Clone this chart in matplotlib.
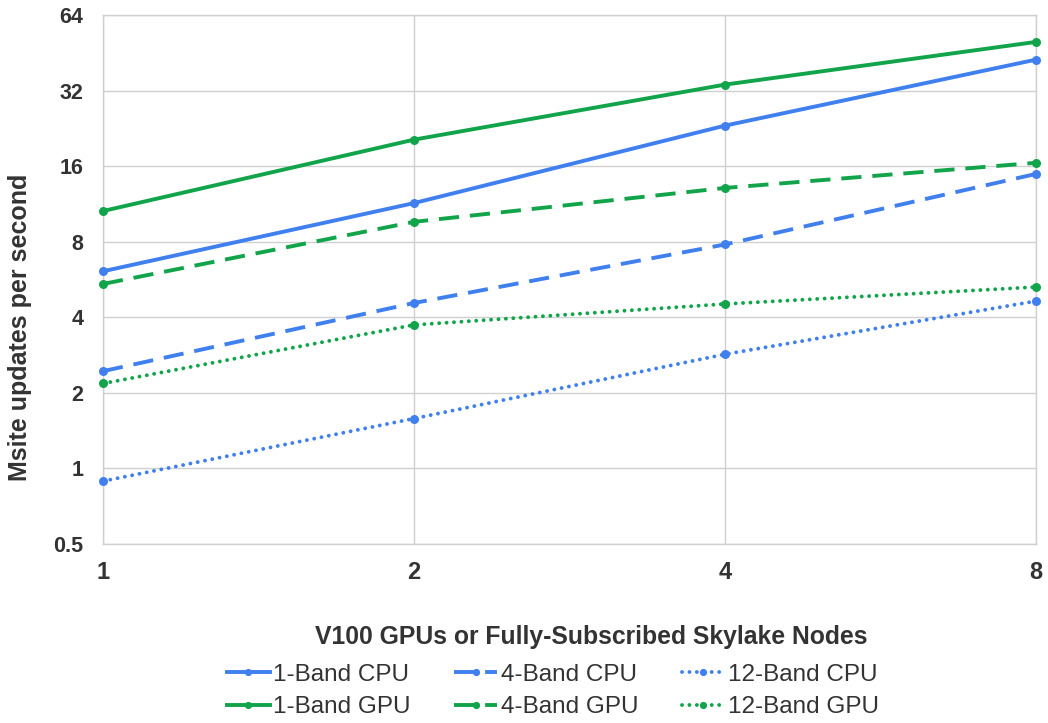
import matplotlib.pyplot as plt
from matplotlib.ticker import FixedLocator, FixedFormatter, NullLocator

nodes = [1, 2, 4, 8]
cpu_1band = [6.1, 11.4, 23.2, 42.5]
cpu_4band = [2.44, 4.56, 7.8, 14.9]
cpu_12band = [0.89, 1.58, 2.85, 4.64]
gpu_1band = [10.6, 20.4, 33.8, 50.0]
gpu_4band = [5.43, 9.6, 13.1, 16.5]
gpu_12band = [2.18, 3.73, 4.52, 5.28]

y_ticks = [0.5, 1, 2, 4, 8, 16, 32, 64]
y_tick_labels = ["0.5", "1", "2", "4", "8", "16", "32", "64"]
x_tick_labels = ["1", "2", "4", "8"]

BLUE = "#3F80EE"
GREEN = "#12A44A"
TEXT = "#333333"
GRID = "#D0D0D0"

plt.rcParams['font.family'] = ['Liberation Sans', 'DejaVu Sans']

W, H = 1048, 723
fig = plt.figure(figsize=(W / 100, H / 100), dpi=100)
ax = fig.add_axes([103 / W, 1 - 544 / H, (1036 - 103) / W, (544 - 15) / H])

SOLID = "-"
DASHED = (0, (5.2, 2.8))
DOTTED = (0, (0.01, 1.9))

series = [
    ("1-Band CPU", cpu_1band, BLUE, SOLID, 2.8),
    ("4-Band CPU", cpu_4band, BLUE, DASHED, 2.8),
    ("12-Band CPU", cpu_12band, BLUE, DOTTED, 2.8),
    ("1-Band GPU", gpu_1band, GREEN, SOLID, 2.8),
    ("4-Band GPU", gpu_4band, GREEN, DASHED, 2.8),
    ("12-Band GPU", gpu_12band, GREEN, DOTTED, 2.8),
]

for label, vals, color, ls, lw in series:
    ax.plot(nodes, vals, color=color, linestyle=ls, linewidth=lw,
            marker="o", markersize=6.5, markeredgewidth=0, label=label,
            dash_capstyle="round" if ls is DOTTED else "butt",
            clip_on=False, zorder=3)

ax.set_xscale("log", base=2)
ax.set_yscale("log", base=2)
ax.set_xlim(1, 8)
ax.set_ylim(0.5, 64)

ax.xaxis.set_major_locator(FixedLocator(nodes))
ax.xaxis.set_major_formatter(FixedFormatter(x_tick_labels))
ax.xaxis.set_minor_locator(NullLocator())
ax.yaxis.set_major_locator(FixedLocator(y_ticks))
ax.yaxis.set_major_formatter(FixedFormatter(y_tick_labels))
ax.yaxis.set_minor_locator(NullLocator())

ax.grid(True, which="major", color=GRID, linewidth=1.0)
ax.set_axisbelow(True)
for s in ax.spines.values():
    s.set_color(GRID)
    s.set_linewidth(1.0)

ax.tick_params(axis="both", length=0, labelcolor=TEXT)
ax.tick_params(axis="y", labelsize=15.5, pad=14)
ax.tick_params(axis="x", labelsize=17, pad=12)
for lbl in ax.get_xticklabels() + ax.get_yticklabels():
    lbl.set_fontweight("bold")

fig.text(20 / W, 1 - 327 / H, "Msite updates per second", rotation=90,
         ha="center", va="center", fontsize=18, fontweight="bold", color=TEXT)

fig.text(591 / W, 1 - 637 / H, "V100 GPUs or Fully-Subscribed Skylake Nodes",
         ha="center", va="center", fontsize=17.8, fontweight="bold", color=TEXT)

handles, labels = ax.get_legend_handles_labels()
order = [0, 3, 1, 4, 2, 5]
leg = fig.legend([handles[i] for i in order], [labels[i] for i in order],
                 loc="center", bbox_to_anchor=(553 / W, 1 - 691 / H),
                 ncol=3, frameon=False, fontsize=17.5, handlelength=1.75,
                 handletextpad=0.15, columnspacing=1.8, labelspacing=0.45,
                 markerscale=0.8)
for t in leg.get_texts():
    t.set_color(TEXT)

fig.savefig("out.png", dpi=100, facecolor="white")
